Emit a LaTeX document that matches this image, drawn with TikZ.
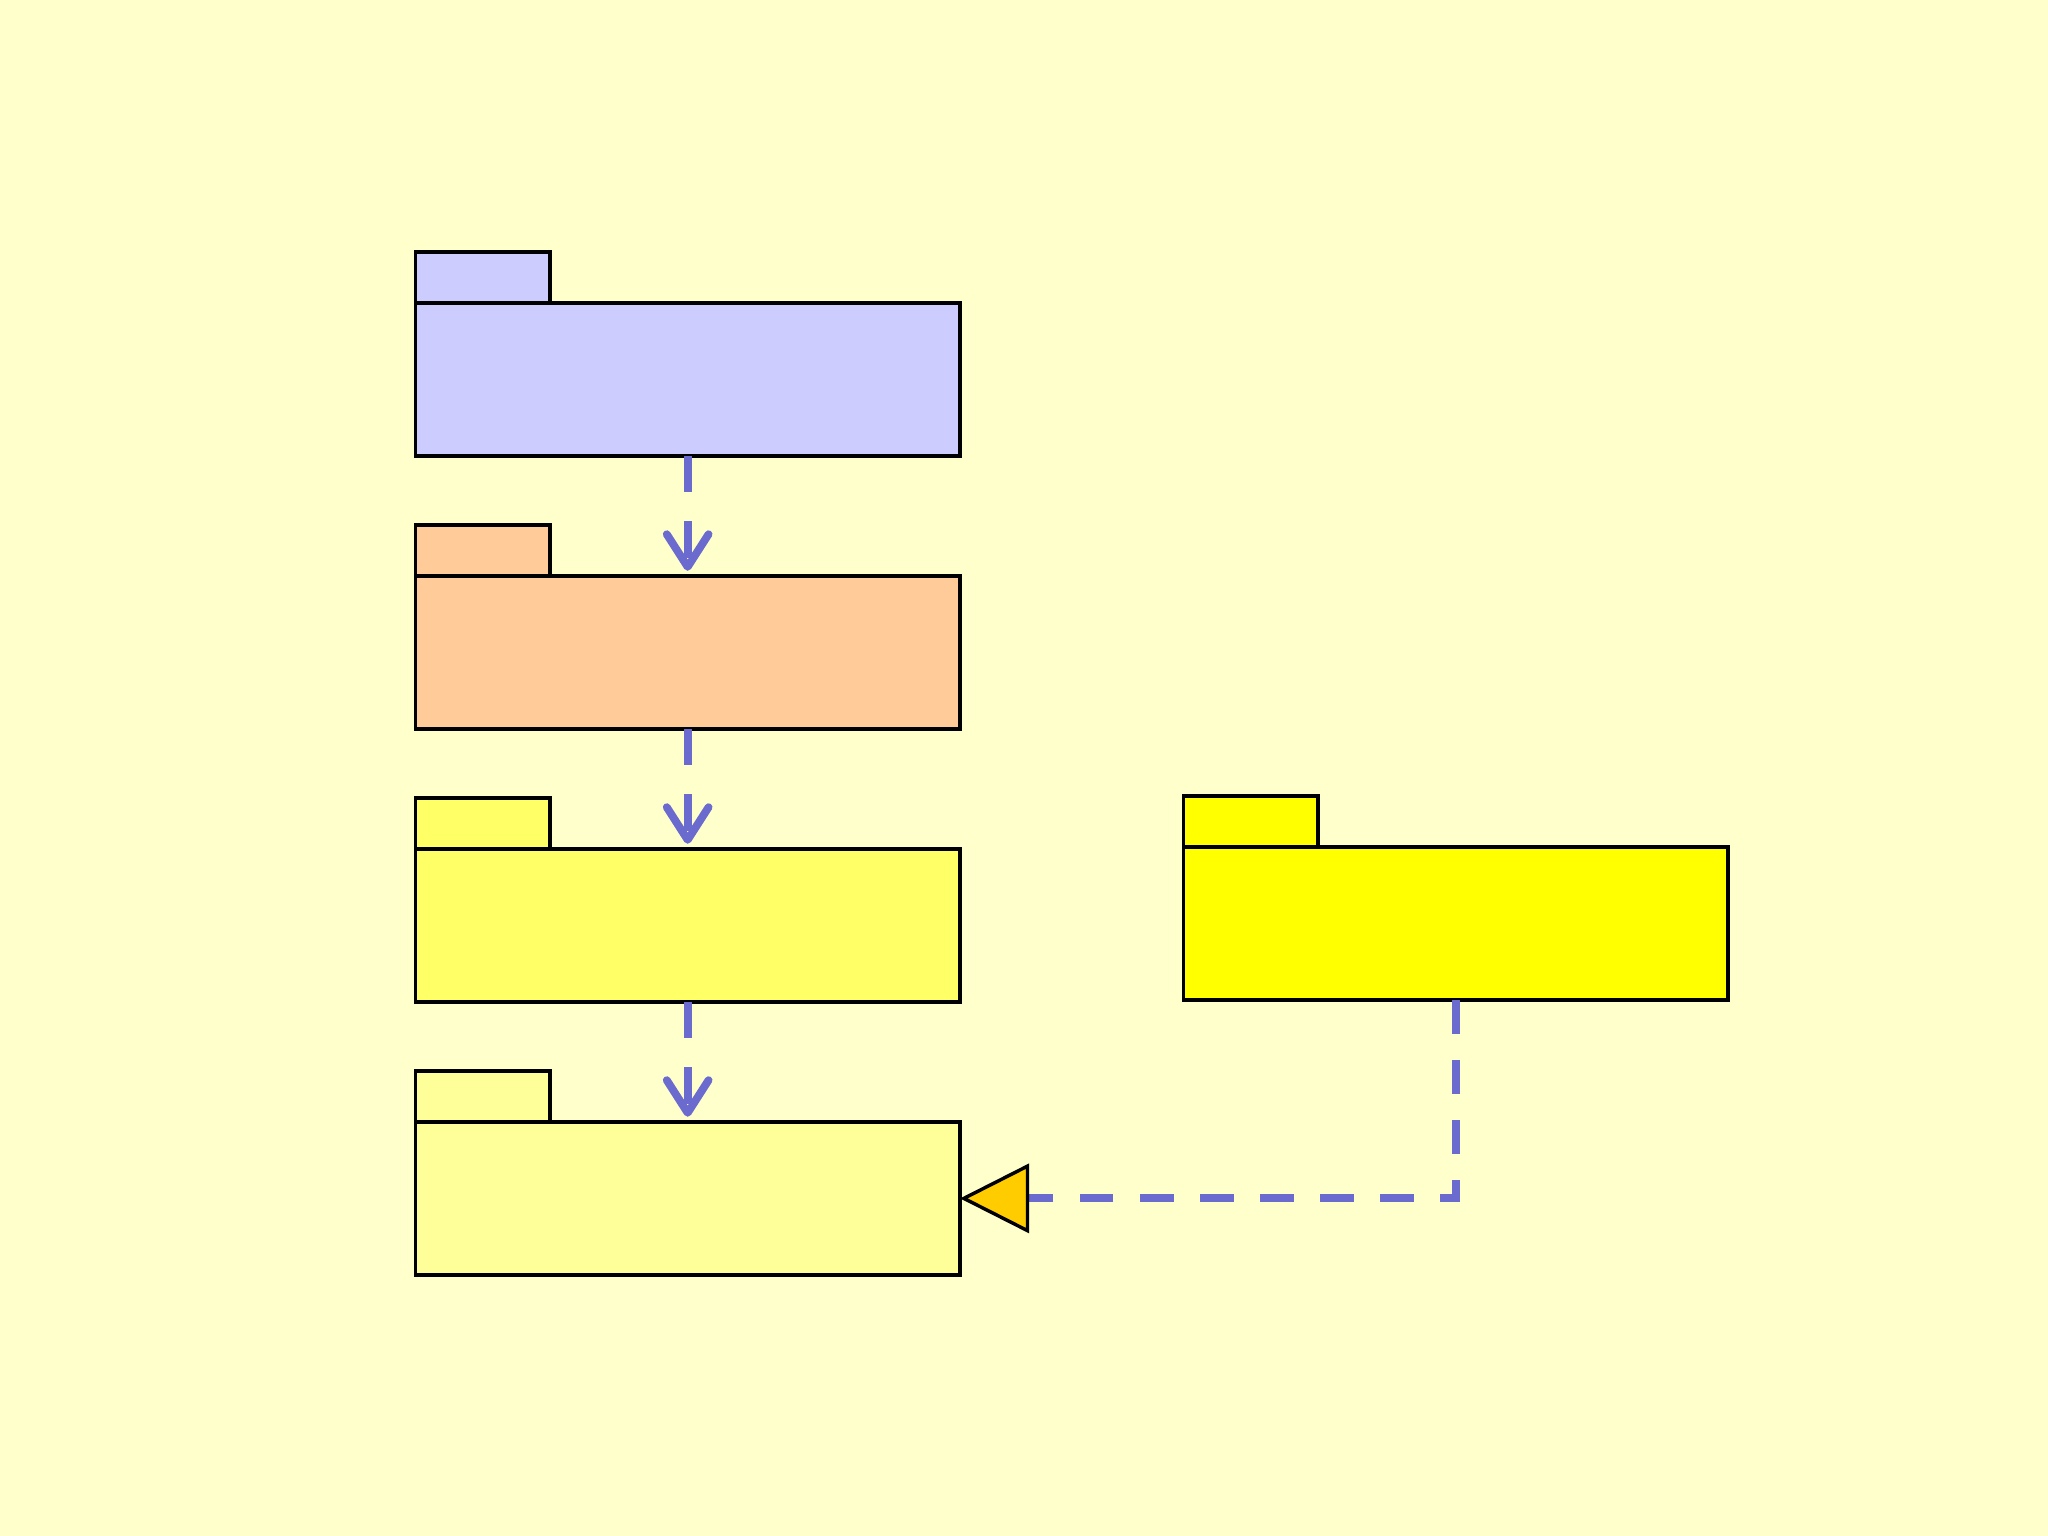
\documentclass[tikz,border=0pt]{standalone}
\usepackage{tikz}
\usetikzlibrary{positioning, arrows.meta}

\definecolor{paper}{HTML}{FFFFCC}
\definecolor{pkgblue}{HTML}{CCCCFF}
\definecolor{pkgorange}{HTML}{FFCC99}
\definecolor{pkgyellow}{HTML}{FFFF66}
\definecolor{pkglight}{HTML}{FFFF99}
\definecolor{pkgbright}{HTML}{FFFF00}
\definecolor{linkblue}{HTML}{6B6BCF}
\definecolor{tipgold}{HTML}{FFCC00}

\tikzset{
    pkgbody/.style={draw=black, line width=0.75pt, minimum width=41.7mm, minimum height=11.7mm, inner sep=0pt, outer sep=0pt},
    pkgtab/.style={draw=black, line width=0.75pt, minimum width=10.3mm, minimum height=3.9mm, inner sep=0pt, outer sep=0pt},
    uses/.style={draw=linkblue, line width=0.6mm, dash pattern=on 2.8mm off 2.2mm,
        -{Straight Barb[length=2.5mm, width=3.2mm, round]}},
    realizes/.style={draw=linkblue, line width=0.6mm, dash pattern=on 2.6mm off 2mm,
        -{Triangle[length=5.3mm, width=5.3mm, fill=tipgold, color=black, line width=0.75pt]}}
}

\begin{document}
\begin{tikzpicture}[x=0.1mm, y=-0.1mm]

    % --- Background ---
    \fill[paper] (0, 0) rectangle (1568, 1176);
    \useasboundingbox (0, 0) rectangle (1568, 1176);

    % --- Left column of packages ---
    \node[pkgbody, fill=pkgblue] (top) at (526.5, 290.5) {};
    \node[pkgtab, fill=pkgblue, above right=0pt and 0pt of top.north west] (toptab) {};

    \node[pkgbody, fill=pkgorange] (upper) at (526.5, 499.5) {};
    \node[pkgtab, fill=pkgorange, above right=0pt and 0pt of upper.north west] (uppertab) {};

    \node[pkgbody, fill=pkgyellow] (lower) at (526.5, 708.5) {};
    \node[pkgtab, fill=pkgyellow, above right=0pt and 0pt of lower.north west] (lowertab) {};

    \node[pkgbody, fill=pkglight] (bottom) at (526.5, 917.5) {};
    \node[pkgtab, fill=pkglight, above right=0pt and 0pt of bottom.north west] (bottomtab) {};

    % --- Right package ---
    \node[pkgbody, fill=pkgbright] (side) at (1114.5, 707) {};
    \node[pkgtab, fill=pkgbright, above right=0pt and 0pt of side.north west] (sidetab) {};

    % --- Dependencies down the column ---
    \draw[uses, shorten >=0.4mm] (top.south) -- (upper.north);
    \draw[uses, shorten >=0.4mm] (upper.south) -- (lower.north);
    \draw[uses, shorten >=0.4mm] (lower.south) -- (bottom.north);

    % --- Elbow link from the right package ---
    \draw[realizes] (side.south) |- (bottom.east);

\end{tikzpicture}
\end{document}
